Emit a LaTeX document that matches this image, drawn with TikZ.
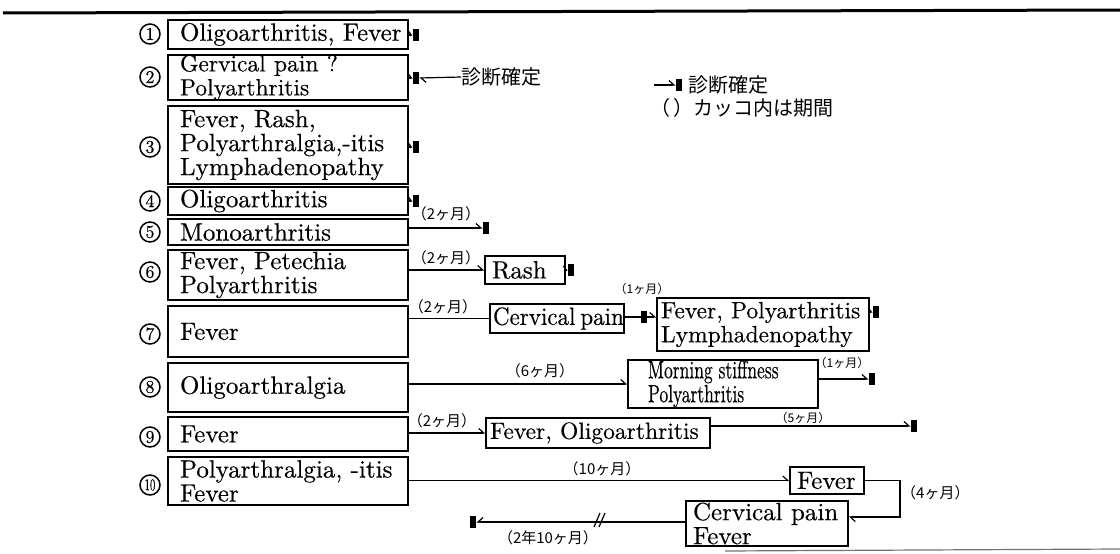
\documentclass[tikz,border=0pt]{standalone}
\usepackage{fontspec}
\usepackage{graphicx}
\setmainfont{lmroman10-regular.otf}[FakeBold=0.4]
\newfontfamily\jpfont{Noto Sans CJK JP}
\usetikzlibrary{arrows.meta}
\tikzset{
 bx/.style={draw, line width=1.4pt, rectangle, inner ysep=0pt, align=left, font=\fontsize{25}{24}\selectfont},
 mk/.style={fill=black, rectangle, minimum width=6.5pt, minimum height=12pt, inner sep=0pt},
 ln/.style={line width=1.2pt},
 ar/.style={ln, -{Straight Barb[harpoon,length=5pt,width=9pt]}},
 arS/.style={ln, -{Straight Barb[harpoon,length=3pt,width=8pt]}},
 num/.style={circle, draw, line width=1.5pt, minimum size=20pt, inner sep=0pt, font=\fontsize{18}{18}\selectfont},
 lab/.style={font=\jpfont\fontsize{15}{15}\selectfont, inner sep=0pt},
 slab/.style={font=\jpfont\fontsize{12}{12}\selectfont, inner sep=0pt},
 leg/.style={font=\jpfont\fontsize{20}{20}\selectfont, inner sep=0pt},
}
\newcommand\mybox[7]{%
 \pgfmathsetmacro\mbW{#4-#2-2*#6}\pgfmathsetmacro\mbH{#5-#3}%
 \pgfmathsetmacro\mbX{(#2+#4)/2}\pgfmathsetmacro\mbY{(#3+#5)/2}%
 \node[bx, inner xsep=#6pt, text width=\mbW pt, minimum height=\mbH pt] (#1) at (\mbX,\mbY) {#7};}
\begin{document}
\begin{tikzpicture}[x=1pt,y=-1pt]
\useasboundingbox (0,0) rectangle (1120,554);
% frame lines
\draw[line width=3pt] (3,13) -- (1120,10);
\draw[line width=1.2pt, black!55] (725,551) -- (1120,549);

% left boxes
\mybox{b1}{168}{20}{408}{49}{12}{\mbox{Oligoarthritis, Fever}}
\mybox{b2}{168}{55}{408}{100}{12}{\fontsize{23.5}{22}\selectfont \mbox{Gervical pain ?}\\Polyarthritis}
\mybox{b3}{168}{106}{408}{184}{12}{\mbox{Fever, Rash,}\\\mbox{Polyarthralgia,-itis}\\Lymphadenopathy}
\mybox{b4}{168}{187}{408}{215}{12}{Oligoarthritis}
\mybox{b5}{168}{219}{408}{245}{12}{Monoarthritis}
\mybox{b6}{168}{250}{408}{300}{12}{\mbox{Fever, Petechia}\\Polyarthritis}
\mybox{b7}{168}{306}{408}{357}{12}{Fever}
\mybox{b8}{168}{363}{408}{412}{12}{Oligoarthralgia}
\mybox{b9}{168}{417}{408}{451}{12}{Fever}
\mybox{b10}{168}{457}{408}{505}{12}{\mbox{Polyarthralgia, -itis}\\Fever}

% numbers
\node[num] (n1) at (150,34) {1};
\node[num] (n2) at (150,77) {2};
\node[num] (n3) at (150,147) {3};
\node[num] (n4) at (150,201) {4};
\node[num] (n5) at (150,232) {5};
\node[num] (n6) at (150,272) {6};
\node[num] (n7) at (150,334) {7};
\node[num] (n8) at (150,387) {8};
\node[num] (n9) at (150,437) {9};
\node[num] (n10) at (150,485) {\scalebox{0.6}[0.9]{10}};

% right boxes
\mybox{rash}{485}{256}{565}{284}{7}{Rash}
\mybox{cp}{490}{304}{624}{333}{3}{\mbox{\scalebox{0.92}[1]{Cervical\hspace{-3pt} pain}}}
\mybox{fpl}{657}{298}{869}{351}{4}{\fontsize{23.5}{24}\selectfont\mbox{Fever, Polyarthritis}\\Lymphadenopathy}
\mybox{mo}{628}{360}{818}{408}{20}{\mbox{\scalebox{0.7}[1]{Morning stiffness}}\\\scalebox{0.7}[1]{Polyarthritis}}
\mybox{fo}{486}{418}{710}{448}{4}{\fontsize{23.5}{24}\selectfont\mbox{Fever, Oligoarthritis}}
\mybox{fv}{790}{467}{864}{494}{7}{Fever}
\mybox{cf}{686}{501}{848}{546}{7}{\mbox{Cervical pain}\\Fever}

% row 1-4 markers
\node[mk] (m1) at (416,35) {};
\draw[arS] (b1.east |- m1) -- (m1.west);
\node[mk] (m2) at (416,78) {};
\draw[arS] (b2.east |- m2) -- (m2.west);
\node[leg, anchor=west] (dx) at (461,77) {診断確定};
\draw[ar] (dx.west) -- (m2.east);
\node[mk] (m3) at (416,147) {};
\draw[arS] (b3.east |- m3) -- (m3.west);
\node[mk] (m4) at (416,201) {};
\draw[arS] (b4.east |- m4) -- (m4.west);

% row 5
\node[mk] (m5) at (486,228) {};
\draw[ar] (b5.east |- m5) -- (m5.west);
\node[lab] (l5) at (446,214) {（2ヶ月）};

% row 6
\draw[ar] (b6.east |- rash.west) -- (rash.west);
\node[lab] (l6) at (446,258) {（2ヶ月）};
\node[mk] (m6) at (571,270) {};
\draw[arS] (rash.east |- m6) -- (m6.west);

% row 7
\draw[ln] (b7.east |- cp.west) -- (cp.west);
\node[lab] (l7) at (443,307) {（2ヶ月）};
\node[mk] (m7a) at (644,317) {};
\draw[ln] (cp.east |- m7a) -- (m7a.west);
\draw[ar] (m7a.east) -- (fpl.west |- m7a);
\node[slab] (l7b) at (642,289) {（1ヶ月）};
\node[mk] (m7b) at (876,312) {};
\draw[arS] (fpl.east |- m7b) -- (m7b.west);

% row 8
\draw[ar] (b8.east |- mo.west) -- (mo.west);
\node[lab] (l8) at (540,371) {（6ヶ月）};
\node[mk] (m8) at (872,379) {};
\draw[ar] (mo.east |- m8) -- (m8.west);
\node[slab] (l8b) at (842,363) {（1ヶ月）};

% row 9
\draw[ar] (b9.east |- fo.west) -- (fo.west);
\node[lab] (l9) at (442,421) {（2ヶ月）};
\node[mk] (m9) at (914,426) {};
\draw[ar] (fo.east |- m9) -- (m9.west);
\node[slab] (l9b) at (803,418) {（5ヶ月）};

% row 10
\draw[ar] (b10.east |- fv.west) -- (fv.west);
\node[lab] (l10) at (602,469) {（10ヶ月）};
\coordinate (lc) at (900,517);
\draw[ar] (fv.east) -| (lc) -- (cf.east |- lc);
\node[lab, anchor=west] (l10b) at (901,493) {（4ヶ月）};
\node[mk] (m10) at (473,522) {};
\draw[ar, -{Straight Barb[harpoon,swap,length=5pt,width=9pt]}] (cf.west |- m10) -- (m10.east);
\draw[ln] (594,527) -- (600,513);
\draw[ln] (599,527) -- (605,513);
\node[lab] (l10c) at (548,538) {（2年10ヶ月）};

% legend
\node[mk] (lm) at (679,85) {};
\coordinate (la) at (654,85);
\draw[ar] (la) -- (lm.west);
\node[leg, anchor=west] (lt) at (688,85) {診断確定};
\node[leg, anchor=west] (lt2) at (650,108) {（\,）カッコ内は期間};
\end{tikzpicture}
\end{document}
